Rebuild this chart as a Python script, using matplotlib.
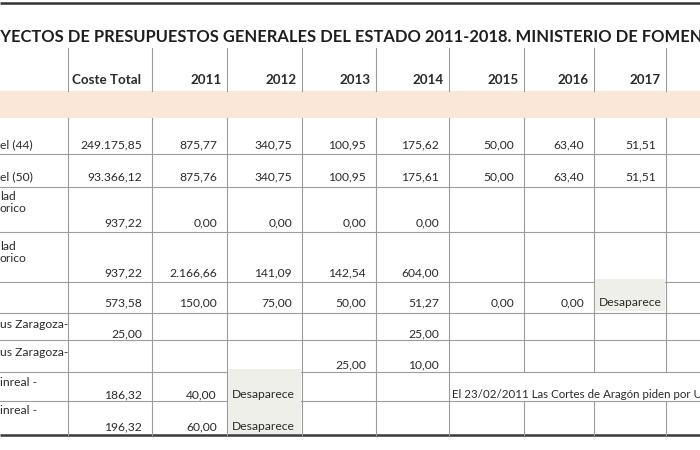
import matplotlib
matplotlib.use("Agg")
import matplotlib.pyplot as plt
from matplotlib.patches import Rectangle

# ---------------- data ----------------
title_full = "PROYECTOS DE PRESUPUESTOS GENERALES DEL ESTADO 2011-2018. MINISTERIO DE FOMENTO"
title_hidden_prefix = "PRO"
title_visible = "YECTOS DE PRESUPUESTOS GENERALES DEL ESTADO 2011-2018. MINISTERIO DE FOMEN"

columns = ["Coste Total", "2011", "2012", "2013", "2014", "2015", "2016", "2017", ""]
row_labels = ["el (44)", "el (50)", "lad\norico", "lad\norico", "",
              "us Zaragoza-", "us Zaragoza-", "inreal -", "inreal -"]

coste_total = [249175.85, 93366.12, 937.22, 937.22, 573.58, 25.00, None, 186.32, 196.32]
a2011 = [875.77, 875.76, 0.00, 2166.66, 150.00, None, None, 40.00, 60.00]
a2012 = [340.75, 340.75, 0.00, 141.09, 75.00, None, None, None, None]
a2013 = [100.95, 100.95, 0.00, 142.54, 50.00, None, 25.00, None, None]
a2014 = [175.62, 175.61, 0.00, 604.00, 51.27, 25.00, 10.00, None, None]
a2015 = [50.00, 50.00, None, None, 0.00, None, None, None, None]
a2016 = [63.40, 63.40, None, None, 0.00, None, None, None, None]
a2017 = [51.51, 51.51, None, None, None, None, None, None, None]
a2018 = [None] * 9
series = [coste_total, a2011, a2012, a2013, a2014, a2015, a2016, a2017, a2018]

notes_text = ["Desaparece", "Desaparece", "Desaparece"]
notes_row = [4, 7, 8]
notes_col = [7, 2, 2]
cortes_note = "El 23/02/2011 Las Cortes de Aragón piden por Unanimidad"
cortes_row = 7
cortes_col = 5

# ---------------- layout ----------------
W, H = 700, 450
col_edges = [0, 68, 152, 227, 302, 376, 449, 524, 594, 666, 700]
row_edges = [118, 154, 187, 232, 282, 313, 340, 372, 401, 435]
value_y = [145, 177, 223, 273, 303, 334, 365, 395, 427]
label_y = [145, 177, 196, 246, 0, 324, 352, 382, 411]
header_top, header_bot = 48, 91
peach = "#fbe7d8"
shade = "#efefea"
line_c = "#9c9c9c"
txt_c = "#2a2a2a"
FONT = "Lato"
FS = 8.7

fig = plt.figure(figsize=(7, 4.5), dpi=100)
ax = fig.add_axes([0, 0, 1, 1])
ax.set_xlim(0, W)
ax.set_ylim(H, 0)
ax.axis("off")
renderer = fig.canvas.get_renderer()

def fmt(v):
    s = f"{v:,.2f}"
    return s.replace(",", "X").replace(".", ",").replace("X", ".")

def width_of(s, **kw):
    t = ax.text(0, 0, s, **kw)
    w = t.get_window_extent(renderer).width
    t.remove()
    return w

# top / bottom rules
ax.plot([0, W], [3, 3], color="#333333", lw=1.8, solid_capstyle="butt")
ax.plot([0, W], [row_edges[-1], row_edges[-1]], color="#3a3a3a", lw=1.8,
        solid_capstyle="butt")

# title (left part cropped by the page edge)
base = width_of(title_visible, fontsize=10, fontfamily=FONT, fontweight="bold")
tfs = 10 * 702 / base
pre = width_of(title_hidden_prefix, fontsize=tfs, fontfamily=FONT, fontweight="bold")
ax.text(-pre, 37, title_full, fontsize=tfs, fontfamily=FONT, fontweight="bold",
        color="#1e1e1e", va="center", ha="left")

# peach band
ax.add_patch(Rectangle((0, header_bot), W, row_edges[0] - header_bot,
                       facecolor=peach, edgecolor="none"))

# header vertical lines
for x in col_edges[1:-1]:
    ax.plot([x, x], [header_top, header_bot], color=line_c, lw=0.8)

# header text
for j, name in enumerate(columns):
    xr = col_edges[j + 2]
    pad = 11 if j == 0 else 5
    ax.text(xr - pad, 80, name, ha="right", va="center", fontsize=FS + 0.9,
            fontfamily=FONT, fontweight="bold", color=txt_c)

# body horizontal lines
for y in row_edges[1:-1]:
    ax.plot([0, W], [y, y], color=line_c, lw=0.8)

# body vertical lines (skip merged note cells)
for x in col_edges[1:-1]:
    for r in range(len(row_labels)):
        if r == cortes_row and x > col_edges[cortes_col + 1] + 1:
            continue
        ax.plot([x, x], [row_edges[r], row_edges[r + 1]], color=line_c, lw=0.8)

# shaded "Desaparece" cells
for txt, r, c in zip(notes_text, notes_row, notes_col):
    x0 = col_edges[c + 1] + 1
    x1 = col_edges[c + 2] - 1
    ax.add_patch(Rectangle((x0, row_edges[r] - 3), x1 - x0,
                           row_edges[r + 1] - row_edges[r] + 1,
                           facecolor=shade, edgecolor="none", zorder=3))
ax.add_patch(Rectangle((col_edges[3] + 1, row_edges[7] + 1),
                       col_edges[4] - col_edges[3] - 2,
                       row_edges[9] - row_edges[7] - 2, facecolor=shade,
                       edgecolor="none", zorder=3))

# row labels
for r, lab in enumerate(row_labels):
    if not lab:
        continue
    for i, ln in enumerate(lab.split("\n")):
        ax.text(0, label_y[r] + i * 12, ln, ha="left", va="center", fontsize=FS,
                fontfamily=FONT, color=txt_c, zorder=4)

# values
for j, vals in enumerate(series):
    xr = col_edges[j + 2]
    for r, v in enumerate(vals):
        if v is None:
            continue
        ax.text(xr - 10, value_y[r], fmt(v), ha="right", va="center", fontsize=FS,
                fontfamily=FONT, color=txt_c, zorder=4)

for txt, r, c in zip(notes_text, notes_row, notes_col):
    ax.text(col_edges[c + 1] + 5, value_y[r], txt, ha="left", va="center",
            fontsize=FS, fontfamily=FONT, color=txt_c, zorder=4)

ax.text(col_edges[cortes_col + 1] + 3, value_y[cortes_row], cortes_note,
        ha="left", va="center", fontsize=FS - 0.4, fontfamily=FONT, color=txt_c, zorder=4)

fig.savefig("out.png", dpi=100)
